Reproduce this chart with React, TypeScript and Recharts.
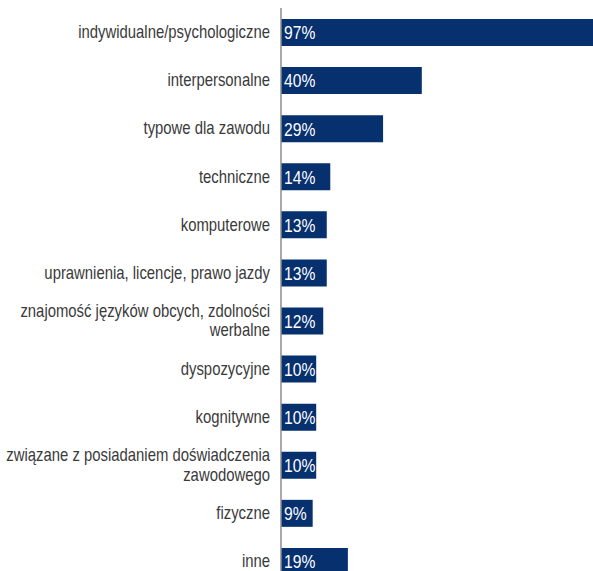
import { BarChart, Bar, XAxis, YAxis, LabelList, Text } from "recharts";

const categories = [
  "indywidualne/psychologiczne",
  "interpersonalne",
  "typowe dla zawodu",
  "techniczne",
  "komputerowe",
  "uprawnienia, licencje, prawo jazdy",
  "znajomość języków obcych, zdolności werbalne",
  "dyspozycyjne",
  "kognitywne",
  "związane z posiadaniem doświadczenia zawodowego",
  "fizyczne",
  "inne",
];

const shares = [97, 40, 29, 14, 13, 13, 12, 10, 10, 10, 9, 19];

const data = categories.map((name, i) => ({ name, value: shares[i] }));

// no condensed font available, so squeeze Liberation Sans horizontally
const FONT = "'Liberation Sans', Arial, sans-serif";
const SQUEEZE = 0.85;

const CategoryTick = (props: any) => {
  const { x, y, payload } = props;
  return (
    <g transform={`translate(${x},${y}) scale(${SQUEEZE},1)`}>
      <Text
        x={0}
        y={0}
        width={325}
        textAnchor="end"
        verticalAnchor="middle"
        lineHeight="1.1em"
        fill="#3a3a3a"
        fontSize={17.5}
        fontFamily={FONT}
        style={{ fontSize: 17.5, fontFamily: FONT }}
      >
        {payload.value}
      </Text>
    </g>
  );
};

const ValueLabel = (props: any) => {
  const { x, y, height, value } = props;
  return (
    <text
      transform={`translate(${x + 3},${y + height / 2 + 1}) scale(0.87,1)`}
      dominantBaseline="central"
      fill="#ffffff"
      fontSize={18}
      fontFamily={FONT}
    >
      {`${value}%`}
    </text>
  );
};

const App = () => {
  return (
    <div
      style={{
        position: "absolute",
        left: 0,
        top: 0,
        width: 593,
        height: 571,
        overflow: "hidden",
        background: "#fff",
      }}
    >
      <BarChart
        width={633}
        height={585}
        data={data}
        layout="vertical"
        margin={{ top: 8, right: 0, bottom: 0, left: 0 }}
        barCategoryGap={21}
      >
        <XAxis type="number" domain={[0, 100]} hide />
        <YAxis
          type="category"
          dataKey="name"
          width={281}
          tickLine={false}
          tickSize={8}
          tickMargin={3}
          axisLine={{ stroke: "#8c8c8c", strokeWidth: 1.5 }}
          tick={<CategoryTick />}
          interval={0}
        />
        <Bar dataKey="value" fill="#07306f" barSize={27} isAnimationActive={false}>
          <LabelList dataKey="value" content={<ValueLabel />} />
        </Bar>
      </BarChart>
    </div>
  );
};

export default App;
